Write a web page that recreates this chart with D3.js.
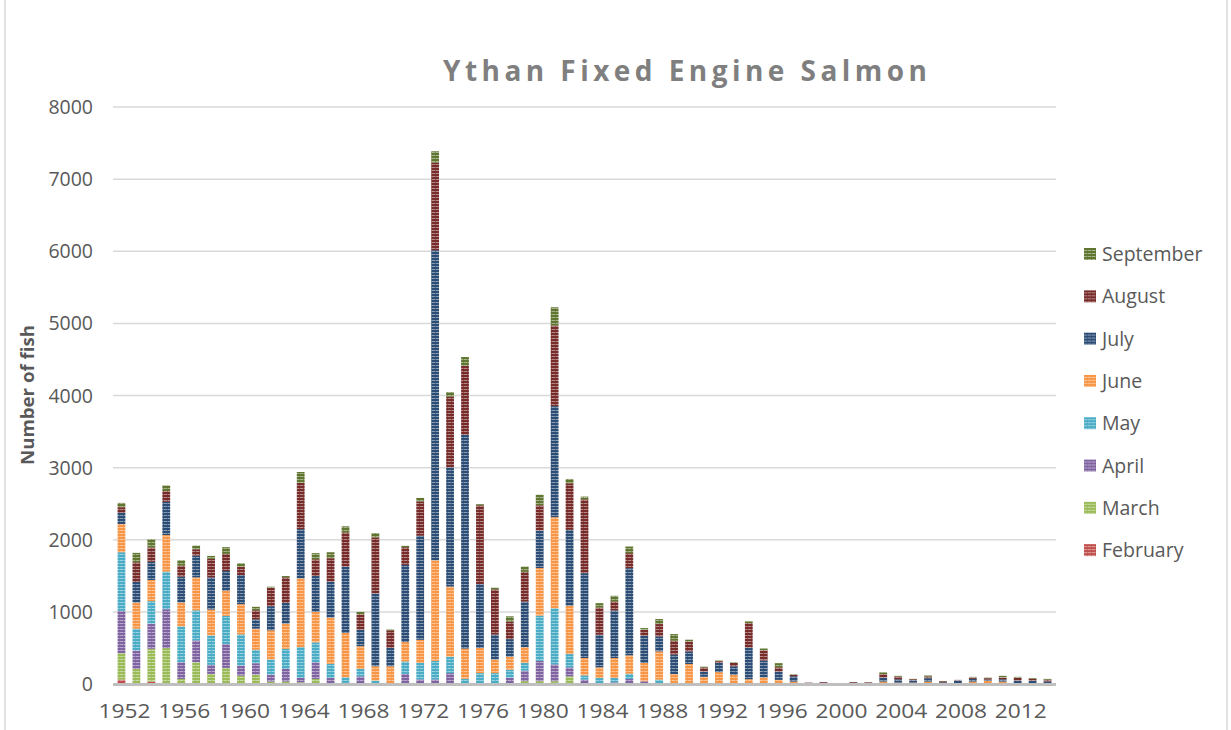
<!DOCTYPE html>
<html>
<head>
<meta charset="utf-8">
<script src="https://cdn.jsdelivr.net/npm/d3@7"></script>
<style>
  html, body { margin: 0; padding: 0; background: #fff; }
  svg { display: block; }
  text { font-family: "Open Sans", "Noto Sans", sans-serif; }
</style>
</head>
<body>
<svg id="chart" width="1231" height="730"></svg>
<script>
// ---- data ----
const years = d3.range(1952, 2015);
const months = ["February", "March", "April", "May", "June", "July", "August", "September"];
const colors = ["#C0504D", "#9BBB59", "#8064A2", "#4BACC6", "#F79646", "#2C4D75", "#772C2A", "#5F7530"];
const yTicks = [0, 1000, 2000, 3000, 4000, 5000, 6000, 7000, 8000];
const xTickYears = [1952, 1956, 1960, 1964, 1968, 1972, 1976, 1980, 1984, 1988, 1992, 1996, 2000, 2004, 2008, 2012];

//                1952..1961                                        1962..1971                                        1972..1981                                           1982..1991                                   1992..2001                         2002..2011                       2012..2014
const february = [60, 0, 33, 0, 0, 10, 0, 0, 0, 0,                  0, 0, 0, 0, 0, 0, 0, 0, 0, 0,                     0, 0, 0, 0, 0, 0, 0, 0, 0, 0,                        0, 0, 0, 0, 0, 0, 0, 0, 0, 0,                0, 0, 0, 0, 0, 0, 0, 0, 0, 0,      0, 0, 0, 0, 0, 0, 0, 0, 0, 0,    0, 0, 0];
const march    = [368, 209, 455, 498, 70, 292, 140, 223, 116, 130,  33, 33, 23, 70, 0, 0, 0, 0, 0, 0,                 0, 0, 0, 0, 0, 0, 0, 39, 39, 39,                     106, 0, 0, 0, 0, 0, 0, 0, 0, 0,              0, 0, 0, 0, 0, 0, 0, 0, 0, 0,      0, 0, 0, 0, 0, 0, 0, 0, 0, 0,    0, 0, 0];
const april    = [586, 256, 349, 539, 232, 302, 125, 330, 140, 158, 97, 176, 61, 232, 84, 15, 107, 10, 0, 140,        63, 63, 151, 0, 0, 0, 87, 146, 282, 233,             125, 60, 0, 23, 69, 37, 0, 0, 0, 0,          0, 0, 0, 0, 0, 0, 0, 0, 0, 0,      0, 0, 0, 0, 0, 0, 0, 0, 0, 0,    0, 0, 0];
const may      = [813, 302, 312, 521, 498, 418, 409, 391, 432, 186, 210, 279, 428, 275, 195, 78, 102, 37, 0, 172,    229, 258, 228, 73, 151, 151, 112, 107, 627, 778,     184, 60, 83, 60, 74, 0, 60, 0, 0, 0,         0, 0, 0, 0, 0, 0, 0, 0, 0, 0,      0, 0, 0, 0, 0, 0, 0, 0, 0, 14,   0, 0, 0];
const june     = [391, 363, 293, 507, 330, 456, 358, 349, 419, 293, 404, 349, 953, 423, 642, 614, 316, 199, 246, 269, 320, 1394, 972, 418, 349, 189, 180, 218, 660, 1263, 670, 240, 148, 277, 254, 254, 392, 138, 277, 100, 165, 127, 66, 90, 57, 33, 5, 8, 3, 8, 6, 33, 19, 19, 33, 5, 10, 33, 42, 19, 5, 10, 10];
const july     = [154, 284, 251, 460, 358, 302, 447, 274, 404, 130, 335, 288, 683, 497, 497, 921, 228, 1010, 256, 1070, 1443, 4300, 1652, 2964, 885, 345, 243, 632, 520, 1540, 1052, 1177, 452, 660, 1209, 378, 208, 268, 175, 72, 127, 118, 439, 236, 118, 75, 8, 10, 4, 10, 10, 57, 47, 33, 47, 19, 38, 38, 19, 33, 42, 35, 25];
const august   = [79, 274, 200, 149, 153, 88, 256, 237, 117, 126,  256, 354, 642, 233, 326, 474, 214, 776, 242, 246, 477, 1215, 981, 957, 1093, 627, 243, 413, 350, 1118, 646, 1024, 378, 125, 208, 83, 171, 194, 139, 58, 24, 47, 339, 142, 57, 19, 6, 10, 3, 10, 8, 47, 38, 14, 24, 14, 9, 19, 19, 24, 38, 25, 25];
const september= [60, 130, 116, 79, 75, 51, 41, 93, 46, 47,        14, 18, 149, 84, 83, 84, 33, 61, 14, 19,           48, 156, 64, 121, 15, 24, 73, 73, 146, 252,          60, 37, 60, 78, 92, 23, 69, 92, 23, 10,      9, 10, 24, 24, 57, 10, 0, 0, 0, 0, 0, 23, 9, 5, 14, 4, 0, 9, 10, 23,    14, 10, 11];

const seriesValues = [february, march, april, may, june, july, august, september];

// ---- build table for d3.stack ----
const table = years.map((yr, i) => {
  const row = { year: yr };
  months.forEach((m, k) => { row[m] = seriesValues[k][i]; });
  return row;
});

const svg = d3.select("#chart");
const W = 1231, H = 730;

// patterns: striped fill like the reference's textured bars
const defs = svg.append("defs");
colors.forEach((c, k) => {
  const p = defs.append("pattern")
    .attr("id", "pat" + k)
    .attr("patternUnits", "userSpaceOnUse")
    .attr("width", 4).attr("height", 3);
  p.append("rect").attr("width", 4).attr("height", 3).attr("fill", c);
  p.append("rect").attr("y", 2).attr("width", 3).attr("height", 1).attr("fill", "#fff").attr("opacity", 0.45);
  p.append("rect").attr("x", 3).attr("y", 2).attr("width", 1).attr("height", 1).attr("fill", "#fff").attr("opacity", 0.2);
});

// chart area border (left/right visible)
svg.append("line").attr("x1", 5).attr("x2", 5).attr("y1", 0).attr("y2", H).attr("stroke", "#d9d9d9").attr("stroke-width", 1.5);
svg.append("line").attr("x1", 1227).attr("x2", 1227).attr("y1", 0).attr("y2", H).attr("stroke", "#d9d9d9").attr("stroke-width", 1.5);

// scales
const x = d3.scaleBand().domain(years).range([114, 1055]).paddingInner(0.5).paddingOuter(0.25);
const y = d3.scaleLinear().domain([0, 8000]).range([684, 107]);

// gridlines
svg.append("g").selectAll("line").data(yTicks.filter(t => t > 0)).join("line")
  .attr("x1", 113).attr("x2", 1056)
  .attr("y1", d => y(d)).attr("y2", d => y(d))
  .attr("stroke", "#d9d9d9").attr("stroke-width", 1.5);

// y tick labels
svg.append("g").selectAll("text").data(yTicks).join("text")
  .attr("x", 93).attr("y", d => y(d) + 7)
  .attr("text-anchor", "end")
  .attr("font-size", 19.5).attr("fill", "#595959")
  .text(d => d);

// stacked bars
const stack = d3.stack().keys(months);
const stacked = stack(table);
const bw = 7.8;
svg.append("g").selectAll("g").data(stacked).join("g")
  .attr("fill", (d, k) => "url(#pat" + k + ")")
  .selectAll("rect").data(d => d).join("rect")
  .attr("x", d => x(d.data.year) + x.bandwidth() / 2 - bw / 2)
  .attr("width", bw)
  .attr("y", d => y(d[1]))
  .attr("height", d => Math.max(0, y(d[0]) - y(d[1])));

// baseline
svg.append("line").attr("x1", 113).attr("x2", 1056).attr("y1", 684.5).attr("y2", 684.5)
  .attr("stroke", "#bfbfbf").attr("stroke-width", 3);

// x tick labels
svg.append("g").selectAll("text").data(xTickYears).join("text")
  .attr("x", d => x(d) + x.bandwidth() / 2 + 3)
  .attr("y", 718)
  .attr("text-anchor", "middle")
  .attr("font-size", 20).attr("fill", "#595959")
  .attr("textLength", 52).attr("lengthAdjust", "spacingAndGlyphs")
  .text(d => d);

// title
svg.append("text")
  .attr("x", 685).attr("y", 81)
  .attr("text-anchor", "middle")
  .attr("font-size", 28).attr("font-weight", "bold").attr("fill", "#7f7f7f")
  .attr("textLength", 484).attr("lengthAdjust", "spacing")
  .text("Ythan Fixed Engine Salmon");

// y axis title
svg.append("text")
  .attr("transform", "translate(34,395) rotate(-90)")
  .attr("text-anchor", "middle")
  .attr("font-size", 18.5).attr("font-weight", "bold").attr("fill", "#595959")
  .attr("textLength", 140).attr("lengthAdjust", "spacingAndGlyphs")
  .text("Number of fish");

// legend (September on top)
const legendItems = months.map((m, k) => ({ m, k })).reverse();
const lg = svg.append("g").selectAll("g").data(legendItems).join("g")
  .attr("transform", (d, i) => `translate(1084, ${254 + i * 42.3})`);
lg.append("rect").attr("x", 0).attr("y", -6).attr("width", 12).attr("height", 12)
  .attr("fill", d => "url(#pat" + d.k + ")");
lg.append("text").attr("x", 18).attr("y", 7)
  .attr("font-size", 19.5).attr("fill", "#595959")
  .text(d => d.m);
</script>
</body>
</html>
